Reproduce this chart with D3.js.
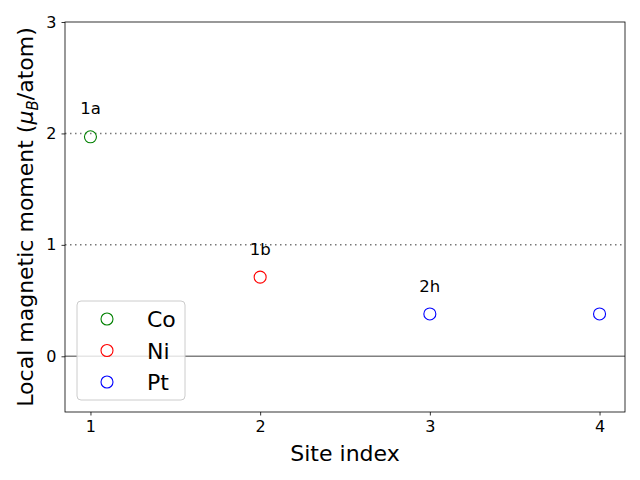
<!DOCTYPE html>
<html><head><meta charset="utf-8">
<script src="https://cdn.jsdelivr.net/npm/d3@7"></script>
<style>body{margin:0;background:#fff}svg{font-family:"DejaVu Sans",sans-serif}</style>
</head><body>
<script>
const sites = [1, 2, 3, 4];
const elements = ["Co", "Ni", "Pt", "Pt"];
const moments = [1.97, 0.71, 0.38, 0.38];
const siteLabels = [{x: 1, y: 2.17, t: "1a"}, {x: 2, y: 0.91, t: "1b"}, {x: 3, y: 0.58, t: "2h"}];
const legendItems = ["Co", "Ni", "Pt"];
const colors = {Co: "green", Ni: "red", Pt: "blue"};
const xTicks = [1, 2, 3, 4];
const yTicks = [0, 1, 2, 3];
const refDotted = [1, 2];

const W = 640, H = 480;
const m = {l: 65, r: 15, t: 22, b: 68};
const svg = d3.select("body").append("svg").attr("width", W).attr("height", H);
const x = d3.scaleLinear().domain([0.85, 4.15]).range([m.l, W - m.r]);
const y = d3.scaleLinear().domain([-0.5, 3]).range([H - m.b, m.t]);

// reference lines
svg.selectAll(".dl").data(refDotted).enter().append("line")
  .attr("x1", m.l).attr("x2", W - m.r).attr("y1", d => y(d)).attr("y2", d => y(d))
  .attr("stroke", "#777").attr("stroke-width", 1.5).attr("stroke-dasharray", "1.5,3.5");
svg.append("line").attr("x1", m.l).attr("x2", W - m.r).attr("y1", y(0)).attr("y2", y(0))
  .attr("stroke", "#808080").attr("stroke-width", 1.5);

// points
svg.selectAll(".pt").data(sites).enter().append("circle")
  .attr("cx", (d) => x(d)).attr("cy", (d, i) => y(moments[i])).attr("r", 6)
  .attr("fill", "none").attr("stroke", (d, i) => colors[elements[i]]).attr("stroke-width", 1.1);

// site labels
svg.selectAll(".sl").data(siteLabels).enter().append("text")
  .attr("x", d => x(d.x)).attr("y", d => y(d.y)).attr("text-anchor", "middle")
  .attr("font-size", 16.5).attr("fill", "#000").text(d => d.t);

// axes
const xa = svg.append("g").attr("transform", `translate(0,${H - m.b})`)
  .call(d3.axisBottom(x).tickValues(xTicks).tickFormat(d3.format("d")).tickSizeOuter(0).tickSize(3.5).tickPadding(5));
const ya = svg.append("g").attr("transform", `translate(${m.l},0)`)
  .call(d3.axisLeft(y).tickValues(yTicks).tickFormat(d3.format("d")).tickSizeOuter(0).tickSize(3.5).tickPadding(5));
[xa, ya].forEach(g => {
  g.select(".domain").remove();
  g.selectAll("text").attr("font-size", 16).attr("fill", "#000").attr("font-family", "DejaVu Sans");
  g.selectAll("line").attr("stroke", "#000").attr("stroke-width", 0.8);
});
svg.append("rect").attr("x", m.l).attr("y", m.t).attr("width", W - m.l - m.r).attr("height", H - m.t - m.b)
  .attr("fill", "none").attr("stroke", "#000").attr("stroke-width", 0.8);

// axis labels
svg.append("text").attr("x", (m.l + W - m.r) / 2).attr("y", 461).attr("text-anchor", "middle")
  .attr("font-size", 22).text("Site index");
const yl = svg.append("text").attr("transform", `translate(33,${(m.t + H - m.b) / 2}) rotate(-90)`)
  .attr("text-anchor", "middle").attr("font-size", 22);
yl.append("tspan").text("Local magnetic moment (");
yl.append("tspan").attr("font-style", "italic").text("μ");
yl.append("tspan").attr("font-size", 15).attr("font-style", "italic").attr("dy", 5).text("B");
yl.append("tspan").attr("dy", -5).text("/atom)");

// legend
const lg = svg.append("g");
lg.append("rect").attr("x", 77).attr("y", 301).attr("width", 108).attr("height", 99).attr("rx", 4)
  .attr("fill", "#fff").attr("fill-opacity", 0.8).attr("stroke", "#ccc");
legendItems.forEach((k, i) => {
  const yy = 319 + i * 31.5;
  lg.append("circle").attr("cx", 107).attr("cy", yy).attr("r", 6).attr("fill", "none")
    .attr("stroke", colors[k]).attr("stroke-width", 1.1);
  lg.append("text").attr("x", 147).attr("y", yy + 8).attr("font-size", 22).text(k);
});
</script>
</body></html>
